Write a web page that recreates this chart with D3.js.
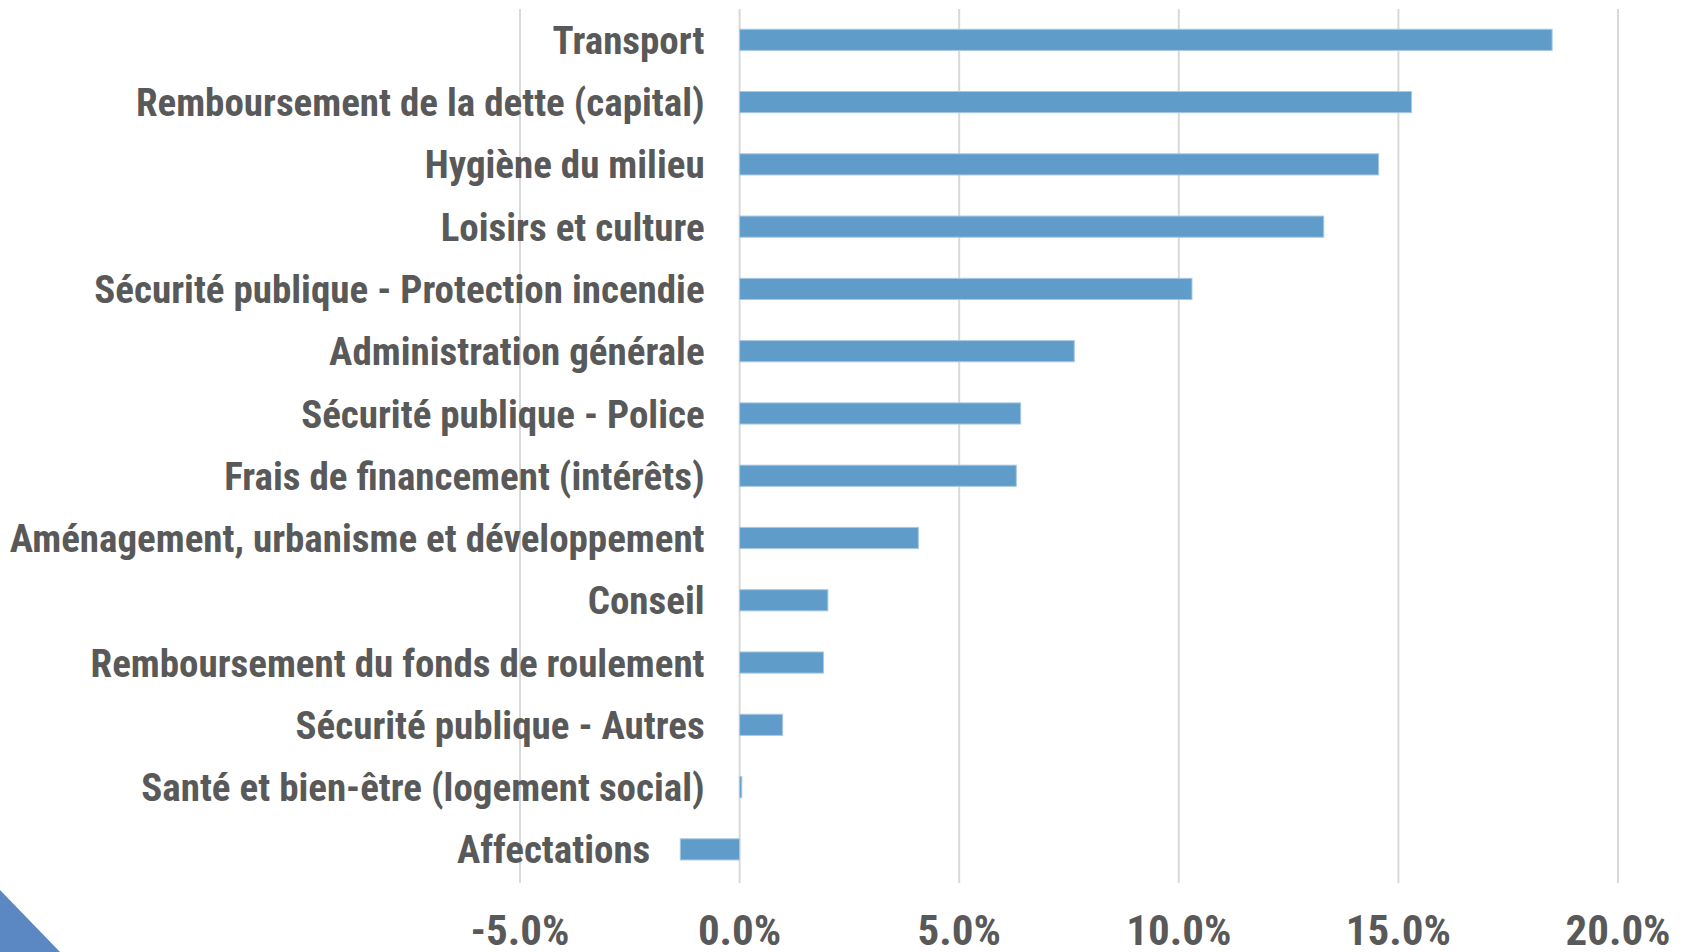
<!DOCTYPE html>
<html>
<head>
<meta charset="utf-8">
<script src="https://cdn.jsdelivr.net/npm/d3@7"></script>
<style>
  body { margin: 0; background: #ffffff; }
  svg { display: block; }
  .cat-label, .tick-label { font-family: "Roboto Condensed", "Open Sans", sans-serif; font-weight: bold; fill: #595959; }
</style>
</head>
<body>
<div id="chart"></div>
<script>
var categories = [
    "Transport",
    "Remboursement de la dette (capital)",
    "Hygiène du milieu",
    "Loisirs et culture",
    "Sécurité publique - Protection incendie",
    "Administration générale",
    "Sécurité publique - Police",
    "Frais de financement (intérêts)",
    "Aménagement, urbanisme et développement",
    "Conseil",
    "Remboursement du fonds de roulement",
    "Sécurité publique - Autres",
    "Santé et bien-être (logement social)",
    "Affectations"
];
var values = [18.5, 15.3, 14.55, 13.3, 10.3, 7.62, 6.4, 6.3, 4.07, 2.01, 1.91, 0.98, 0.05, -1.35];
var tickValues = [-5, 0, 5, 10, 15, 20];

var width = 1688, height = 952;

var svg = d3.select("#chart").append("svg").attr("width", width).attr("height", height);

var x = d3.scaleLinear().domain([-5, 20]).range([520, 1618]);
var y = d3.scaleBand().domain(categories).range([8.7, 880.5]).paddingInner(0.66).paddingOuter(0.33);

// coin décoratif en bas à gauche
svg.append("path")
    .attr("d", "M0,890 L0,952 L60,952 Z")
    .attr("fill", "#5b87c2");

// gridlines
svg.append("g").selectAll("line")
    .data(tickValues)
    .enter().append("line")
    .attr("x1", function (d) { return x(d); })
    .attr("x2", function (d) { return x(d); })
    .attr("y1", 9)
    .attr("y2", 883)
    .attr("stroke", "#d9d9d9")
    .attr("stroke-width", 2);

// bars
svg.append("g").selectAll("rect")
    .data(values)
    .enter().append("rect")
    .attr("x", function (d) { return x(Math.min(0, d)); })
    .attr("y", function (d, i) { return y(categories[i]); })
    .attr("width", function (d) { return Math.abs(x(d) - x(0)); })
    .attr("height", y.bandwidth())
    .attr("fill", "#5f9cca")
    .attr("stroke", "#a9c8e4")
    .attr("stroke-width", 1);

// category labels (next to the bar's base)
svg.append("g").selectAll("text")
    .data(values)
    .enter().append("text")
    .attr("class", "cat-label")
    .attr("x", function (d) { return d < 0 ? x(d) - 30 : x(0) - 35; })
    .attr("y", function (d, i) { return y(categories[i]) + y.bandwidth() / 2; })
    .attr("dy", "0.36em")
    .attr("text-anchor", "end")
    .style("font-size", "39px")
    .text(function (d, i) { return categories[i]; });

// x tick labels
svg.append("g").selectAll("text")
    .data(tickValues)
    .enter().append("text")
    .attr("class", "tick-label")
    .attr("x", function (d) { return x(d); })
    .attr("y", 945)
    .attr("text-anchor", "middle")
    .style("font-size", "43px")
    .text(function (d) { return (d < 0 ? "-" : "") + Math.abs(d).toFixed(1) + "%"; });
</script>
</body>
</html>
